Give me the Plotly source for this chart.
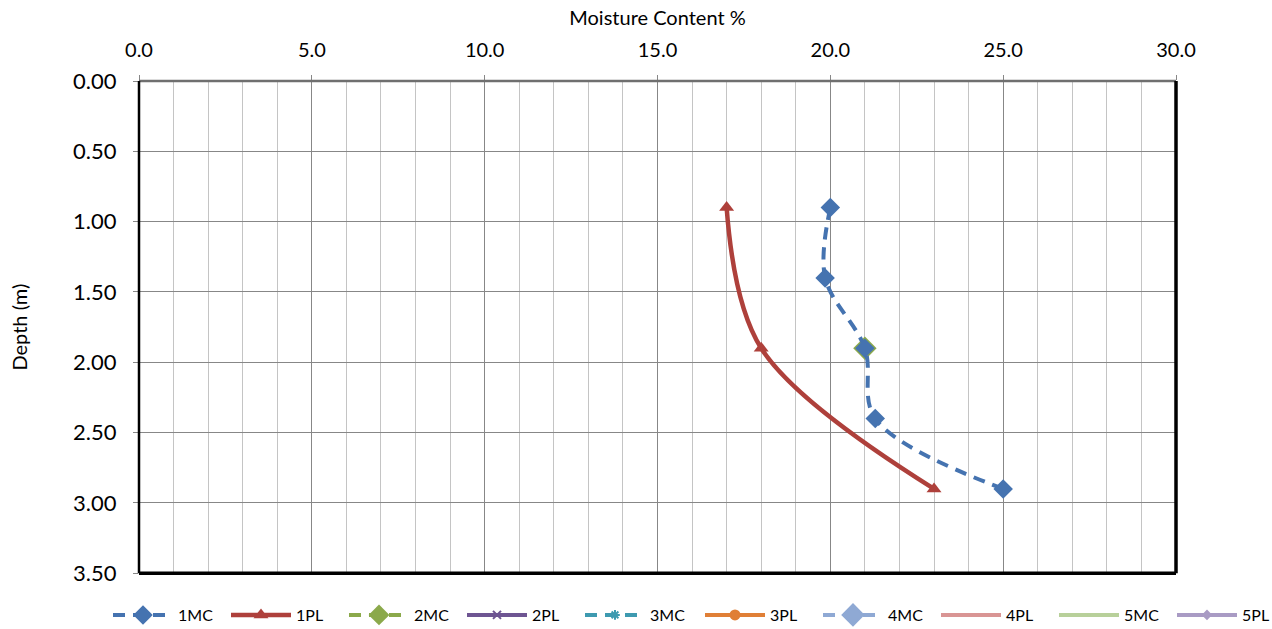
import plotly.graph_objects as go

# ---- data ----
mc1_x = [20.0, 19.85, 21.0, 21.3, 25.0]
mc1_y = [0.9, 1.4, 1.9, 2.4, 2.9]
pl1_x = [17.0, 18.0, 23.0]
pl1_y = [0.9, 1.9, 2.9]
mc2_x = [21.0]
mc2_y = [1.9]

x_ticks = [0, 5, 10, 15, 20, 25, 30]
y_ticks = [0, 0.5, 1.0, 1.5, 2.0, 2.5, 3.0, 3.5]

FONT = "Lato"
DASH = "12px,8px"

fig = go.Figure()

# 2MC drawn first (behind 1MC) so only its green edge shows
fig.add_trace(go.Scatter(
    x=mc2_x, y=mc2_y, name="2MC", mode="lines+markers", legendrank=3, legend="legend",
    line=dict(color="#8BA94B", width=4, dash=DASH),
    marker=dict(symbol="diamond", size=18, color="#8BA94B"),
))
fig.add_trace(go.Scatter(
    x=mc1_x, y=mc1_y, name="1MC", mode="lines+markers", legendrank=1, legend="legend",
    line=dict(color="#4573B0", width=4, dash=DASH, shape="spline", smoothing=1.0),
    marker=dict(symbol="diamond", size=15, color="#4573B0"),
))
fig.add_trace(go.Scatter(
    x=pl1_x, y=pl1_y, name="1PL", mode="lines+markers", legendrank=2, legend="legend",
    line=dict(color="#AE403B", width=4.5, shape="spline", smoothing=1.0),
    marker=dict(symbol="triangle-up", size=13, color="#AE403B"),
))

empty = [
    ("2PL", "#6E5592", "solid", "x-thin", 8),
    ("3MC", "#3E9AB0", DASH, "asterisk", 8),
    ("3PL", "#E07F36", "solid", "circle", 9),
    ("4MC", "#8FA9D4", DASH, "diamond", 22),
    ("4PL", "#D99594", "solid", "circle", 0.1),
    ("5MC", "#B8D09A", "solid", "circle", 0.1),
    ("5PL", "#A99BC4", "solid", "diamond", 6),
]
for i, (nm, col, dash, sym, sz) in enumerate(empty):
    fig.add_trace(go.Scatter(
        x=[None], y=[None], name=nm, mode="lines+markers", legendrank=4 + i,
        legend="legend" if i < 2 else "legend2",
        line=dict(color=col, width=4, dash=dash),
        marker=dict(symbol=sym, size=sz, color=col, line=dict(color=col, width=2)),
    ))

leg_common = dict(orientation="h", xref="container", yref="container",
                  xanchor="left", y=1 - 615 / 629, yanchor="middle",
                  font=dict(size=16, family=FONT), itemwidth=60,
                  entrywidth=43, entrywidthmode="pixels", tracegroupgap=0,
                  bgcolor="rgba(0,0,0,0)")

fig.update_layout(
    width=1272, height=629,
    margin=dict(l=139, r=96, t=81, b=52),
    paper_bgcolor="white", plot_bgcolor="white",
    font=dict(family=FONT, color="black"),
    showlegend=True,
    legend=dict(x=108 / 1272, **leg_common),
    legend2=dict(x=700 / 1272, **leg_common),
    xaxis=dict(
        side="top", range=[0, 30], tickvals=x_ticks, ticktext=[f"{v:.1f}" for v in x_ticks],
        showgrid=True, gridcolor="#878787", gridwidth=1.3,
        minor=dict(dtick=1, showgrid=True, gridcolor="#c4c4c4", gridwidth=1.3),
        ticks="outside", ticklen=5, tickcolor="#878787", ticklabelstandoff=10,
        tickfont=dict(size=20, family=FONT),
        title=dict(text="Moisture Content %", font=dict(size=20, family=FONT), standoff=6),
        zeroline=False, showline=False,
    ),
    yaxis=dict(
        range=[3.5, 0], tickvals=y_ticks, ticktext=[f"{v:.2f}" for v in y_ticks],
        showgrid=True, gridcolor="#878787", gridwidth=1.3,
        ticks="outside", ticklen=5, tickcolor="#878787", ticklabelstandoff=12,
        tickfont=dict(size=22, family=FONT),
        title=dict(text="Depth (m)", font=dict(size=20, family=FONT), standoff=40),
        zeroline=False, showline=False,
    ),
    shapes=[
        dict(type="line", xref="paper", yref="paper", x0=0, x1=1, y0=1, y1=1,
             line=dict(color="#6f6f6f", width=2.5)),
        dict(type="line", xref="paper", yref="paper", x0=0, x1=0, y0=0, y1=1,
             line=dict(color="black", width=2.5)),
        dict(type="line", xref="paper", yref="paper", x0=0, x1=1, y0=0, y1=0,
             line=dict(color="black", width=3.5)),
        dict(type="line", xref="paper", yref="paper", x0=1, x1=1, y0=0, y1=1,
             line=dict(color="black", width=3.5)),
    ],
)

fig.write_html("out.html")
